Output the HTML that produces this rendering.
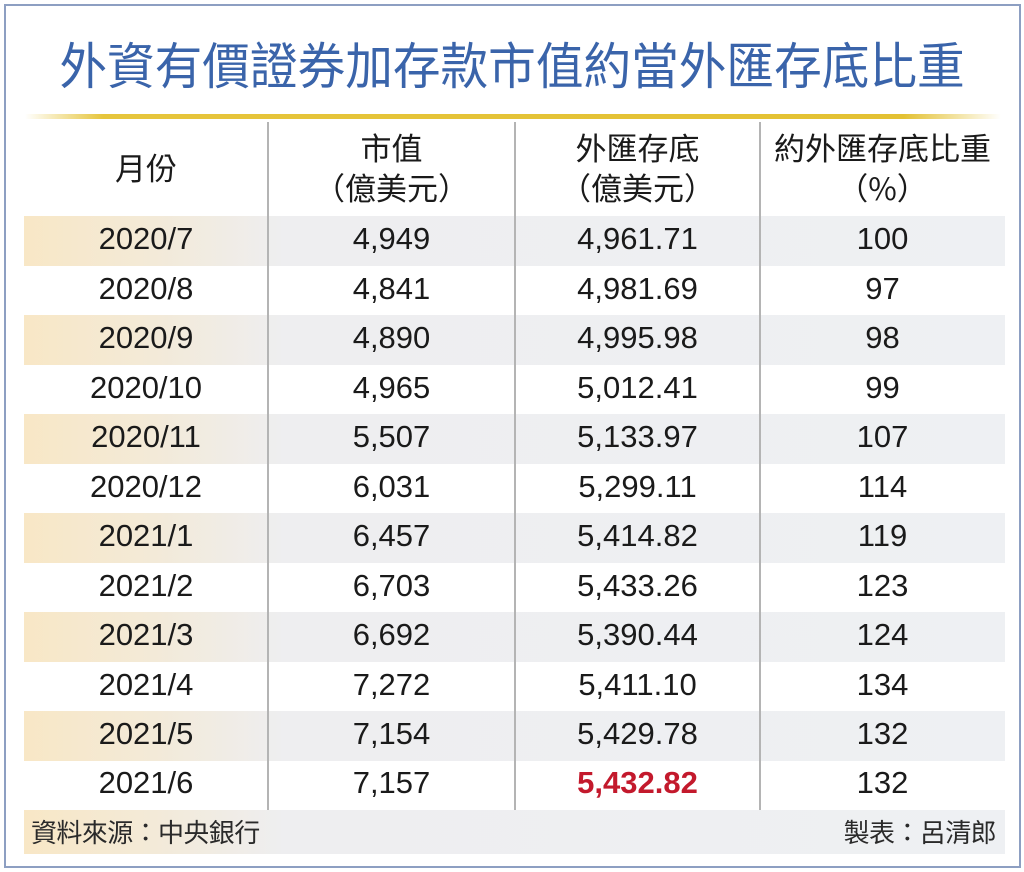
<!DOCTYPE html>
<html><head><meta charset="utf-8">
<style>
*{margin:0;padding:0;box-sizing:border-box}
html,body{width:1024px;height:872px;background:#fff;overflow:hidden}
body{position:relative;font-family:"Liberation Sans","Noto Sans CJK TC",sans-serif;color:#1a1a1a}
.frame{position:absolute;left:4px;top:4px;width:1017px;height:864px;border:2px solid #8d9fc2;background:#fff}
.title{position:absolute;left:0;width:1024px;top:31px;text-align:center;font-family:"Noto Sans CJK TC","Liberation Sans",sans-serif;font-size:50px;line-height:64px;color:#3a64aa;letter-spacing:0px;font-weight:400;white-space:nowrap;transform:scaleX(0.953);transform-origin:512px 0}
.gold{position:absolute;left:25px;top:114px;width:976px;height:5px;background:linear-gradient(90deg,rgba(229,196,58,0) 0%,#e6c53c 8%,#e3c133 90%,rgba(229,196,58,0) 100%)}
.vline{position:absolute;top:122px;height:688px;width:2px;background:#b4b4b4}
.row{position:absolute;left:24px;width:981px;height:50px}
.shade{background:linear-gradient(90deg,#f8e7c6 0px,#f3ead8 130px,#eeeef0 260px,#eef0f3 100%)}
.c{position:absolute;top:-2px;height:50px;line-height:50px;text-align:center;font-size:31px;font-family:"Liberation Sans",Arial,sans-serif;letter-spacing:0px}
.c1{left:0;width:244px}
.c2{left:244px;width:247px}
.c3{left:491px;width:245px}
.c4{left:736px;width:245px}
.hd{position:absolute;text-align:center;font-family:"Noto Sans CJK TC",sans-serif;font-size:31px;line-height:38px;color:#1a1a1a}
.red{color:#c3192c;font-weight:bold}
.foot{position:absolute;left:24px;top:810px;width:981px;height:44px;background:linear-gradient(90deg,#f8e7c6 0px,#f3ead8 130px,#eeeef0 260px,#eef0f3 100%)}
.ft{position:absolute;top:0;line-height:44px;font-family:"Noto Sans CJK TC",sans-serif;font-size:26px;color:#2a2a2a;letter-spacing:-0.6px}
</style></head><body>
<div class="frame"></div>
<div class="title">外資有價證券加存款市值約當外匯存底比重</div>
<div class="gold"></div>

<div class="hd" style="left:24px;width:244px;top:148px">月份</div>
<div class="hd" style="left:268px;width:247px;top:128px">市值</div>
<div class="hd" style="left:268px;width:247px;top:168px">（億美元）</div>
<div class="hd" style="left:515px;width:245px;top:128px">外匯存底</div>
<div class="hd" style="left:515px;width:245px;top:168px">（億美元）</div>
<div class="hd" style="left:760px;width:245px;top:128px">約外匯存底比重</div>
<div class="hd" style="left:760px;width:245px;top:168px">（%）</div>

<div class="row shade" style="top:216px"><div class="c c1">2020/7</div><div class="c c2">4,949</div><div class="c c3">4,961.71</div><div class="c c4">100</div></div>
<div class="row" style="top:265.5px"><div class="c c1">2020/8</div><div class="c c2">4,841</div><div class="c c3">4,981.69</div><div class="c c4">97</div></div>
<div class="row shade" style="top:315px"><div class="c c1">2020/9</div><div class="c c2">4,890</div><div class="c c3">4,995.98</div><div class="c c4">98</div></div>
<div class="row" style="top:364.5px"><div class="c c1">2020/10</div><div class="c c2">4,965</div><div class="c c3">5,012.41</div><div class="c c4">99</div></div>
<div class="row shade" style="top:414px"><div class="c c1">2020/11</div><div class="c c2">5,507</div><div class="c c3">5,133.97</div><div class="c c4">107</div></div>
<div class="row" style="top:463.5px"><div class="c c1">2020/12</div><div class="c c2">6,031</div><div class="c c3">5,299.11</div><div class="c c4">114</div></div>
<div class="row shade" style="top:513px"><div class="c c1">2021/1</div><div class="c c2">6,457</div><div class="c c3">5,414.82</div><div class="c c4">119</div></div>
<div class="row" style="top:562.5px"><div class="c c1">2021/2</div><div class="c c2">6,703</div><div class="c c3">5,433.26</div><div class="c c4">123</div></div>
<div class="row shade" style="top:612px"><div class="c c1">2021/3</div><div class="c c2">6,692</div><div class="c c3">5,390.44</div><div class="c c4">124</div></div>
<div class="row" style="top:661.5px"><div class="c c1">2021/4</div><div class="c c2">7,272</div><div class="c c3">5,411.10</div><div class="c c4">134</div></div>
<div class="row shade" style="top:711px"><div class="c c1">2021/5</div><div class="c c2">7,154</div><div class="c c3">5,429.78</div><div class="c c4">132</div></div>
<div class="row" style="top:760px"><div class="c c1">2021/6</div><div class="c c2">7,157</div><div class="c c3 red">5,432.82</div><div class="c c4">132</div></div>

<div class="vline" style="left:267px"></div>
<div class="vline" style="left:514px"></div>
<div class="vline" style="left:759px"></div>

<div class="foot">
<div class="ft" style="left:7px">資料來源：中央銀行</div>
<div class="ft" style="right:9px">製表：呂清郎</div>
</div>
</body></html>
